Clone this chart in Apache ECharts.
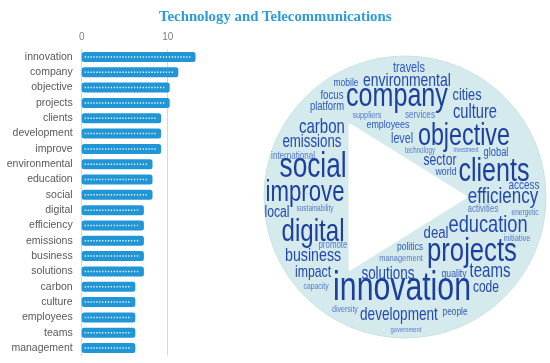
<!DOCTYPE html>
<html>
<head>
<meta charset="utf-8">
<script src="https://cdn.jsdelivr.net/npm/echarts@6/dist/echarts.min.js"></script>
<style>
  html, body { margin: 0; padding: 0; background: #fff; }
  #chart { width: 550px; height: 363px; }
</style>
</head>
<body>
<div id="chart"></div>
<script>
// word counts (bar chart)
const categories = [
  "innovation", "company", "objective", "projects", "clients", "development",
  "improve", "environmental", "education", "social", "digital", "efficiency",
  "emissions", "business", "solutions", "carbon", "culture", "employees",
  "teams", "management"
];
const counts = [13, 11, 10, 10, 9, 9, 9, 8, 8, 8, 7, 7, 7, 7, 7, 6, 6, 6, 6, 6];
const xTicks = [0, 10];

// word cloud: positions in a -100..100 box around the circle centre, size in px
const cloudWords = [
  "travels", "mobile", "environmental", "focus", "company", "cities", "platform",
  "culture", "suppliers", "services", "carbon", "employees", "level", "objective",
  "emissions", "technology", "investment", "global", "international", "sector",
  "social", "world", "clients", "access", "improve", "efficiency", "activities",
  "sustainability", "local", "energetic", "education", "deal", "digital",
  "initiative", "promote", "politics", "projects", "business", "management",
  "teams", "impact", "quality", "solutions", "code", "innovation", "capacity",
  "people", "diversity", "development", "government"
];
const cloudX = [
  2.8, -41.8, 1.4, -51.8, -5.7, 44.0, -55.3,
  49.6, -27.0, 10.6, -58.9, -12.1, -2.1, 41.8,
  -66.0, 10.6, 43.3, 64.5, -79.4, 24.8,
  -65.2, 29.1, 63.1, 84.4, -70.9, 69.5, 55.3,
  -63.8, -90.8, 85.1, 58.9, 22.0, -65.2,
  79.4, -51.1, 3.5, 47.5, -65.2, -2.8,
  60.3, -65.2, 34.8, -12.1, 57.4, -2.1, -63.1,
  35.5, -42.6, -4.3, 0.7
];
const cloudY = [
  91.5, 80.9, 82.3, 72.3, 70.9, 72.3, 63.8,
  59.6, 58.2, 58.2, 49.6, 51.1, 41.1, 42.6,
  39.0, 32.6, 33.3, 31.2, 29.1, 25.5,
  20.6, 17.7, 17.7, 8.5, 2.8, 0.0, -8.5,
  -8.5, -11.3, -11.3, -19.9, -25.5, -24.8,
  -29.1, -34.0, -35.5, -39.0, -41.8, -43.3,
  -53.2, -53.9, -54.6, -54.6, -64.5, -65.2, -63.8,
  -81.6, -79.4, -83.7, -94.3
];
const cloudSize = [
  14.3, 11.2, 18.4, 12.7, 33, 16.7, 12.4,
  19.3, 9.5, 10.8, 19.8, 11.7, 14.1, 30.7,
  17.5, 8.2, 6.8, 12.3, 10.6, 15.9,
  34.5, 11.6, 33, 13.1, 29.2, 22.4, 10.6,
  8.5, 16, 8.6, 24, 17.4, 31.7,
  9.8, 10.4, 11.2, 33.8, 18.7, 9.9,
  19.8, 16.1, 11.4, 17.7, 15.8, 39.8, 9,
  11, 9.3, 17.9, 7.7
];
// play-button triangle inside the circle
const triX = [-39, -39, 43];
const triY = [51, -51, 0];

function wordColor(size) {
  if (size >= 28) return "#1c3f9d";
  if (size >= 15) return "#2349ad";
  if (size >= 11) return "#2d58c0";
  return "#5479cf";
}

const chart = echarts.init(document.getElementById("chart"), null, {
  renderer: "canvas",
});

const option = {
  animation: false,
  title: {
    text: "Technology and Telecommunications",
    left: 154,
    top: 5,
    textStyle: {
      fontFamily: "Liberation Serif",
      fontWeight: "bold",
      fontSize: 14.8,
      color: "#2e9bd6",
    },
  },
  grid: [
    { left: 81.7, top: 49.3, width: 172, height: 306.4 },
    { left: 264, top: 56, width: 282, height: 282 },
  ],
  xAxis: [
    {
      type: "value",
      gridIndex: 0,
      position: "top",
      min: 0,
      max: 20,
      interval: 10,
      axisLine: { show: false },
      axisTick: { show: false },
      axisLabel: {
        showMaxLabel: false,
        margin: 7,
        fontSize: 10,
        color: "#808080",
        fontFamily: "Liberation Sans",
        formatter: (v) => (xTicks.includes(v) ? String(v) : ""),
      },
      splitLine: {
        lineStyle: { color: ["#d9d9d9", "#d9d9d9", "rgba(0,0,0,0)"] },
      },
    },
    { type: "value", gridIndex: 1, min: -100, max: 100, show: false },
  ],
  yAxis: [
    {
      type: "category",
      gridIndex: 0,
      inverse: true,
      data: categories,
      axisLine: { lineStyle: { color: "#d9d9d9" } },
      axisTick: { show: false },
      axisLabel: {
        margin: 9,
        fontSize: 10.5,
        color: "#595959",
        fontFamily: "Liberation Sans",
      },
    },
    { type: "value", gridIndex: 1, min: -100, max: 100, show: false },
  ],
  series: [
    {
      type: "custom",
      name: "count",
      xAxisIndex: 0,
      yAxisIndex: 0,
      data: counts.map((v, i) => [v, i]),
      clip: false,
      renderItem: (params, api) => {
        const start = api.coord([0, api.value(1)]);
        const end = api.coord([api.value(0), api.value(1)]);
        const w = end[0] - start[0] + 2;
        return {
          type: "group",
          children: [
            {
              type: "rect",
              shape: { x: start[0], y: start[1] - 5, width: w, height: 10, r: 2.5 },
              style: { fill: "#2196d6" },
            },
            {
              type: "line",
              shape: { x1: start[0] + 3, y1: start[1], x2: start[0] + w - 4, y2: start[1] },
              style: { stroke: "#ffffff", lineWidth: 1.5, lineDash: [1.2, 1.7] },
            },
          ],
        };
      },
    },
    {
      type: "custom",
      name: "circle",
      xAxisIndex: 1,
      yAxisIndex: 1,
      data: [[0, 0]],
      clip: false,
      silent: true,
      renderItem: (params, api) => {
        const c = api.coord([api.value(0), api.value(1)]);
        const r = api.size([100, 0])[0];
        return {
          type: "circle",
          shape: { cx: c[0], cy: c[1], r: r },
          style: { fill: "#d5eaed", stroke: "#c9e2e6", lineWidth: 1 },
        };
      },
    },
    {
      type: "custom",
      name: "triangle",
      xAxisIndex: 1,
      yAxisIndex: 1,
      data: [[0, 0]],
      clip: false,
      silent: true,
      renderItem: (params, api) => {
        const pts = triX.map((x, i) => api.coord([x, triY[i]]));
        return {
          type: "polygon",
          shape: { points: pts },
          style: { fill: "#ffffff", stroke: "#ffffff", lineWidth: 3, lineJoin: "round" },
        };
      },
    },
    {
      type: "custom",
      name: "words",
      xAxisIndex: 1,
      yAxisIndex: 1,
      data: cloudWords.map((w, i) => [cloudX[i], cloudY[i], cloudSize[i], i]),
      clip: false,
      renderItem: (params, api) => {
        const p = api.coord([api.value(0), api.value(1)]);
        const size = api.value(2);
        return {
          type: "text",
          x: p[0],
          y: p[1],
          scaleX: 0.76,
          style: {
            text: cloudWords[api.value(3)],
            fontSize: size,
            fontFamily: "Liberation Sans",
            fill: wordColor(size),
            align: "center",
            verticalAlign: "middle",
          },
        };
      },
    },
  ],
};
chart.setOption(option);
</script>
</body>
</html>
